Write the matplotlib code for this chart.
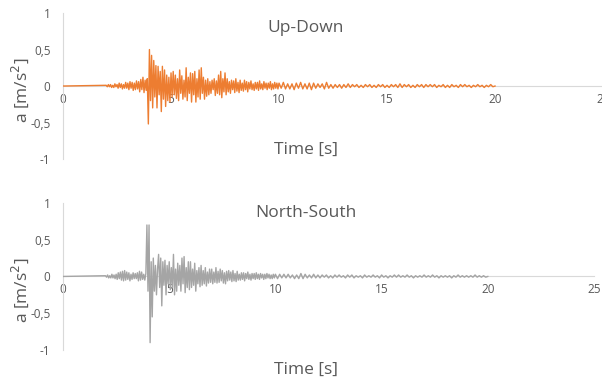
import matplotlib.pyplot as plt
import numpy as np

plt.rcParams['font.family'] = ['Open Sans', 'DejaVu Sans']

# Records: dense part sampled every 0.05 s from 2.0 s, tail every 0.1 s from 10.0 s
t_early, dt_early = 2.0, 0.05
t_late, dt_late = 10.0, 0.1

# Up-Down acceleration [m/s^2]
up_down_early = [
    0.01, -0.01, 0.02, -0.01, 0.02, -0.02, 0.01, -0.02, 0.03, -0.01,
    0.02, -0.03, 0.04, -0.02, 0.03, -0.04, 0.02, -0.03, 0.05, -0.03,
    0.04, -0.05, 0.06, -0.03, 0.05, -0.06, 0.04, -0.05, 0.07, -0.04,
    0.06, -0.08, 0.09, -0.05, 0.12, -0.09, 0.08, -0.06, 0.1, -0.52,
    0.5, -0.2, 0.42, -0.3, 0.35, -0.15, 0.28, -0.3, 0.27, -0.12,
    0.2, -0.35, 0.27, -0.18, 0.22, -0.28, 0.15, -0.2, 0.12, -0.22,
    0.18, -0.15, 0.2, -0.12, 0.15, -0.17, 0.1, -0.2, 0.22, -0.1,
    0.14, -0.18, 0.08, -0.15, 0.25, -0.2, 0.12, -0.1, 0.18, -0.22,
    0.17, -0.12, 0.2, -0.22, 0.1, -0.15, 0.22, -0.18, 0.25, -0.1,
    0.12, -0.18, 0.08, -0.14, 0.1, -0.12, 0.06, -0.1, 0.08, -0.05,
    0.1, -0.13, 0.07, -0.1, 0.15, -0.12, 0.2, -0.16, 0.1, -0.08,
    0.18, -0.12, 0.1, -0.08, 0.06, -0.1, 0.08, -0.05, 0.07, -0.09,
    0.1, -0.07, 0.05, -0.09, 0.08, -0.06, 0.04, -0.07, 0.08, -0.05,
    0.06, -0.08, 0.05, -0.04, 0.07, -0.05, 0.03, -0.06, 0.05, -0.04,
    0.05, -0.06, 0.07, -0.04, 0.03, -0.05, 0.06, -0.03, 0.04, -0.05,
    0.04, -0.03, 0.06, -0.05, 0.03, -0.04, 0.05, -0.03, 0.04, -0.04,
]
up_down_late = [
    0.04, -0.03, 0.05, -0.04, 0.03, -0.04, 0.03, -0.05, 0.04, -0.03,
    0.05, -0.04, 0.03, -0.04, 0.04, -0.05, 0.04, -0.03, 0.03, -0.02,
    0.03, -0.04, 0.05, -0.03, 0.02, -0.03, 0.02, -0.02, 0.02, -0.03,
    0.02, -0.02, 0.03, -0.02, 0.02, -0.01, 0.02, -0.02, 0.01, -0.02,
    0.02, -0.01, 0.02, -0.02, 0.01, -0.02, 0.02, -0.01, 0.02, -0.02,
    0.01, -0.02, 0.02, -0.01, 0.02, -0.02, 0.03, -0.02, 0.02, -0.01,
    0.02, -0.02, 0.01, -0.02, 0.02, -0.01, 0.02, -0.02, 0.02, -0.01,
    0.02, -0.01, 0.02, -0.02, 0.01, -0.01, 0.02, -0.02, 0.01, -0.02,
    0.02, -0.01, 0.01, -0.02, 0.02, -0.01, 0.02, -0.01, 0.01, -0.02,
    0.01, -0.01, 0.02, -0.01, 0.01, -0.02, 0.01, -0.01, 0.02, -0.01,
    0.0,
]

# North-South acceleration [m/s^2]
north_south_early = [
    0.01, -0.01, 0.02, -0.02, 0.01, -0.02, 0.03, -0.02, 0.02, -0.03,
    0.03, -0.04, 0.05, -0.03, 0.06, -0.05, 0.07, -0.06, 0.08, -0.05,
    0.06, -0.04, 0.05, -0.06, 0.03, -0.04, 0.05, -0.03, 0.04, -0.03,
    0.05, -0.06, 0.07, -0.05, 0.06, -0.04, 0.03, -0.05, 0.04, 0.7,
    -0.2, 0.7, -0.9, 0.2, -0.55, 0.25, -0.2, 0.15, -0.25, 0.1,
    0.3, -0.15, 0.25, -0.4, 0.2, -0.12, 0.22, -0.25, 0.15, -0.1,
    0.2, -0.18, 0.12, -0.15, 0.3, -0.25, 0.1, -0.2, 0.18, -0.12,
    0.15, -0.2, 0.25, -0.1, 0.27, -0.22, 0.12, -0.15, 0.2, -0.18,
    0.2, -0.15, 0.1, -0.12, 0.18, -0.2, 0.08, -0.1, 0.12, -0.14,
    0.15, -0.12, 0.08, -0.1, 0.12, -0.13, 0.06, -0.09, 0.1, -0.08,
    0.1, -0.1, 0.06, -0.08, 0.12, -0.09, 0.07, -0.08, 0.1, -0.06,
    0.08, -0.09, 0.05, -0.1, 0.07, -0.06, 0.08, -0.05, 0.06, -0.07,
    0.08, -0.06, 0.04, -0.07, 0.07, -0.05, 0.03, -0.05, 0.05, -0.04,
    0.05, -0.06, 0.04, -0.03, 0.06, -0.04, 0.03, -0.05, 0.04, -0.03,
    0.04, -0.04, 0.05, -0.03, 0.03, -0.04, 0.04, -0.02, 0.03, -0.04,
    0.03, -0.03, 0.04, -0.02, 0.03, -0.03, 0.02, -0.03, 0.03, -0.02,
]
north_south_late = [
    0.03, -0.03, 0.03, -0.02, 0.03, -0.02, 0.03, -0.02, 0.02, -0.03,
    0.02, -0.03, 0.04, -0.03, 0.03, -0.02, 0.02, -0.02, 0.03, -0.02,
    0.02, -0.02, 0.02, -0.01, 0.02, -0.02, 0.01, -0.02, 0.02, -0.01,
    0.02, -0.01, 0.01, -0.02, 0.02, -0.01, 0.02, -0.02, 0.01, -0.01,
    0.01, -0.02, 0.02, -0.01, 0.01, -0.01, 0.02, -0.01, 0.01, -0.02,
    0.02, -0.01, 0.01, -0.02, 0.01, -0.01, 0.02, -0.01, 0.02, -0.01,
    0.01, -0.01, 0.02, -0.01, 0.01, -0.02, 0.01, -0.01, 0.01, -0.01,
    0.02, -0.01, 0.01, -0.01, 0.02, -0.01, 0.01, -0.02, 0.01, -0.01,
    0.01, -0.01, 0.01, -0.02, 0.01, -0.01, 0.02, -0.01, 0.01, -0.01,
    0.01, -0.01, 0.01, -0.01, 0.02, -0.01, 0.01, -0.01, 0.01, -0.01,
    0.0,
]

titles = ["Up-Down", "North-South"]
colors = ["#ED7D31", "#A5A5A5"]
x_ticks = [0, 5, 10, 15, 20, 25]
y_ticks = [-1, -0.5, 0, 0.5, 1]
y_tick_labels = ["-1", "-0,5", "0", "0,5", "1"]

fig = plt.figure(figsize=(6.02, 3.83), dpi=100)
grey = "#595959"
axes_boxes = [[0.1047, 0.5849, 0.897, 0.381], [0.1047, 0.0862, 0.882, 0.384]]
title_y = [0.927, 0.443]
xlabel_y = [0.608, 0.034]
ylabel_y = [0.765, 0.243]

records = [(up_down_early, up_down_late), (north_south_early, north_south_late)]
for i, (early, late) in enumerate(records):
    ax = fig.add_axes(axes_boxes[i])
    t = np.concatenate([[0.0],
                        t_early + dt_early * np.arange(len(early)),
                        t_late + dt_late * np.arange(len(late))])
    a = np.concatenate([[0.0], early, late])
    ax.plot(t, a, color=colors[i], linewidth=1.0, zorder=3)

    ax.set_xlim(0, 25)
    ax.set_ylim(-1, 1)
    ax.set_xticks(x_ticks)
    ax.set_yticks(y_ticks)
    ax.set_yticklabels(y_tick_labels)
    for side in ["top", "right"]:
        ax.spines[side].set_visible(False)
    ax.spines["left"].set_color("#D9D9D9")
    ax.spines["bottom"].set_position("zero")
    ax.spines["bottom"].set_color("#D9D9D9")
    ax.tick_params(length=0, labelsize=8.5, labelcolor=grey)
    ax.tick_params(axis="y", pad=9)
    ax.tick_params(axis="x", pad=5)
    ax.patch.set_alpha(0)

    fig.text(0.508, title_y[i], titles[i], ha="center", va="center", fontsize=12.5, color=grey)
    fig.text(0.508, xlabel_y[i], "Time [s]", ha="center", va="center", fontsize=12.5, color=grey)
    fig.text(0.033, ylabel_y[i], "a [m/s$^2$]", ha="center", va="center", rotation=90,
             fontsize=12.5, color=grey)

fig.savefig("out.png", dpi=100)
